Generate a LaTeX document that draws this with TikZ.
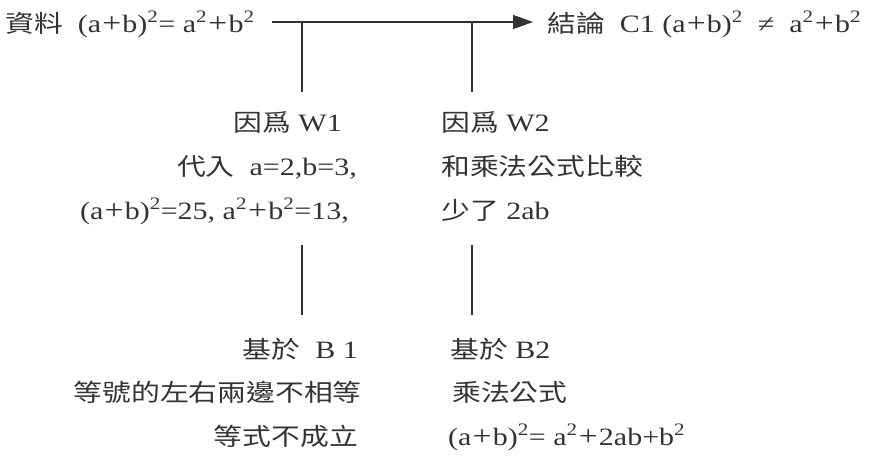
\documentclass[tikz,border=0pt]{standalone}
\usepackage{fontspec}
\setmainfont[FakeStretch=1.2]{Liberation Serif}
\newfontfamily\cjkfam[FakeStretch=1.2]{Noto Sans CJK TC}
\newcommand\cj[1]{{\cjkfam\fontsize{24}{28}\selectfont #1}}
\usetikzlibrary{arrows.meta}
\definecolor{ink}{HTML}{333333}
\newcommand\pl{\kern1.2pt{\fontsize{28}{28}\selectfont+}\kern1.2pt}
\newcommand\sq{\textsuperscript{2}}
\begin{document}
\begin{tikzpicture}[x=1pt,y=-1pt,
  txt/.style={inner sep=0pt, font=\fontsize{25}{28}\selectfont, text=ink},
  conn/.style={draw=ink, line width=1.4pt},
  arr/.style={conn, -{Triangle[length=20pt,width=14pt]}}]
\useasboundingbox (0,0) rectangle (876,458);
% top row
\node[txt, anchor=base west] (data) at (5,32)
  {\cj{資料}\ \ (a\pl b)\sq= a\sq\pl b\sq};
\node[txt, anchor=base west] (claim) at (547,32)
  {\cj{結論}\ \ C1 (a\pl b)\sq\ \ ≠ \ a\sq\pl b\sq};
\coordinate (mL) at (272,22);
\coordinate (mR) at (533,22);
\coordinate (j1) at (302,22);
\coordinate (j2) at (472,22);
\coordinate (j1e) at (302,92);
\coordinate (j2e) at (472,92);
\draw[arr] (mL) -- (mR);
\draw[conn] (j1) -- (j1e);
\draw[conn] (j2) -- (j2e);
% warrants
\node[txt, anchor=base east] (w1a) at (342,131) {\cj{因爲} W1};
\node[txt, anchor=base east] (w1b) at (357,175) {\cj{代入}\ \ a=2,b=3,};
\node[txt, anchor=base east] (w1c) at (349,219)
  {(a\pl b)\sq=25, a\sq\pl b\sq=13,};
\node[txt, anchor=base west] (w2a) at (441,131) {\cj{因爲} W2};
\node[txt, anchor=base west] (w2b) at (441,175) {\cj{和乘法公式比較}};
\node[txt, anchor=base west] (w2c) at (441,219) {\cj{少了} 2ab};
% lower connectors
\coordinate (k1a) at (302,245);
\coordinate (k1b) at (302,315);
\coordinate (k2a) at (472,245);
\coordinate (k2b) at (472,315);
\draw[conn] (k1a) -- (k1b);
\draw[conn] (k2a) -- (k2b);
% backings
\node[txt, anchor=base east] (b1a) at (358,358) {\cj{基於}\ \ B 1};
\node[txt, anchor=base east] (b1b) at (362,401) {\cj{等號的左右兩邊不相等}};
\node[txt, anchor=base east] (b1c) at (358,445) {\cj{等式不成立}};
\node[txt, anchor=base west] (b2a) at (450,358) {\cj{基於} B2};
\node[txt, anchor=base west] (b2b) at (452,401) {\cj{乘法公式}};
\node[txt, anchor=base west] (b2c) at (448,445)
  {(a\pl b)\sq= a\sq\pl 2ab+b\sq};
\end{tikzpicture}
\end{document}
